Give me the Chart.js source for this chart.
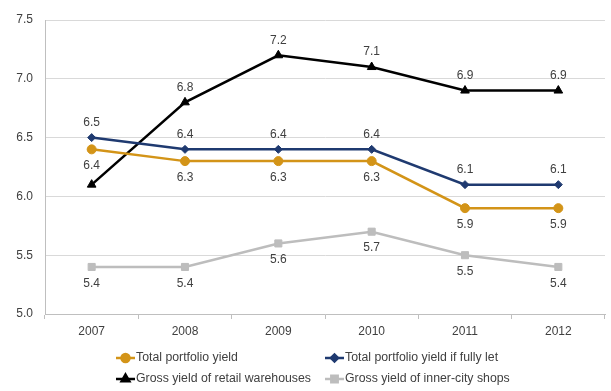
<!DOCTYPE html>
<html>
<head>
<meta charset="utf-8">
<script src="https://cdn.jsdelivr.net/npm/chart.js@4.4.0/dist/chart.umd.min.js"></script>
<style>
  html, body { margin: 0; padding: 0; background: #fff; }
  #wrap { width: 611px; height: 391px; position: relative; }
</style>
</head>
<body>
<div id="wrap"><canvas id="myChart"></canvas></div>
<script>
var ctx = document.getElementById("myChart").getContext('2d');

const years = ["2007", "2008", "2009", "2010", "2011", "2012"];
const portfolioYield = [6.4, 6.3, 6.3, 6.3, 5.9, 5.9];
const fullyLetYield = [6.5, 6.4, 6.4, 6.4, 6.1, 6.1];
const warehouseYield = [6.1, 6.8, 7.2, 7.1, 6.9, 6.9];
const innerCityYield = [5.4, 5.4, 5.6, 5.7, 5.5, 5.4];
// 2007 value of the warehouses line carries no label
const warehouseLabels = [false, true, true, true, true, true];

const FONT = "'Liberation Sans', Arial, sans-serif";

function series(label, values, color, style, radius, labelPos, show) {
  return {
    label: label,
    data: values,
    borderColor: color,
    backgroundColor: color,
    borderWidth: 2.5,
    pointStyle: style,
    pointRadius: radius,
    pointHoverRadius: radius,
    pointBorderWidth: 1,
    tension: 0,
    labelPos: labelPos, // 'above' or 'below'
    showLabels: show || values.map(() => true)
  };
}

const data = {
  labels: years,
  datasets: [
    series('Total portfolio yield', portfolioYield, '#d39418', 'circle', 4.5, 'below'),
    series('Total portfolio yield if fully let', fullyLetYield, '#1f3a70', 'rectRot', 4, 'above'),
    series('Gross yield of retail warehouses', warehouseYield, '#000000', 'triangle', 5, 'above', warehouseLabels),
    series('Gross yield of inner-city shops', innerCityYield, '#bdbdbd', 'rect', 5, 'below')
  ]
};

// value labels next to each point
const valueLabels = {
  id: 'valueLabels',
  afterDatasetsDraw(chart) {
    const c = chart.ctx;
    c.save();
    c.font = '12px ' + FONT;
    c.fillStyle = '#404040';
    c.textAlign = 'center';
    c.textBaseline = 'middle';
    chart.data.datasets.forEach((ds, i) => {
      chart.getDatasetMeta(i).data.forEach((pt, j) => {
        if (!ds.showLabels[j]) return;
        const dy = ds.labelPos === 'above' ? -15 : 16.5;
        c.fillText(ds.data[j].toFixed(1), pt.x, pt.y + dy);
      });
    });
    c.restore();
  }
};

// two-column legend with line + marker swatches
const lineLegend = {
  id: 'lineLegend',
  afterDraw(chart) {
    const c = chart.ctx;
    const cols = [116, 325];
    const rows = [358, 379];
    c.save();
    c.font = '12.3px ' + FONT;
    c.textBaseline = 'middle';
    c.textAlign = 'left';
    chart.data.datasets.forEach((ds, i) => {
      const x = cols[i % 2], y = rows[Math.floor(i / 2)];
      c.strokeStyle = ds.borderColor;
      c.lineWidth = 2.5;
      c.beginPath();
      c.moveTo(x, y);
      c.lineTo(x + 19, y);
      c.stroke();
      c.fillStyle = ds.backgroundColor;
      Chart.helpers.drawPoint(c, {
        pointStyle: ds.pointStyle,
        radius: ds.pointRadius - 0.5,
        borderWidth: 1,
        rotation: 0
      }, x + 9.5, y);
      c.fillStyle = '#404040';
      c.fillText(ds.label, x + 20, y);
    });
    c.restore();
  }
};

const config = {
  type: 'line',
  data,
  plugins: [valueLabels, lineLegend],
  options: {
    responsive: true,
    maintainAspectRatio: false,
    animation: false,
    layout: { padding: { top: 20, right: 1, bottom: 47, left: 0 } },
    plugins: {
      legend: { display: false },
      tooltip: { enabled: false }
    },
    scales: {
      x: {
        offset: true,
        grid: {
          offset: true,
          drawOnChartArea: false,
          drawTicks: true,
          tickLength: 5,
          color: '#bfbfbf'
        },
        border: { color: '#bfbfbf', width: 1 },
        ticks: { font: { family: FONT, size: 12 }, color: '#404040', padding: 5, maxRotation: 0 },
        afterFit(scale) { scale.height = 30; }
      },
      y: {
        min: 5.0,
        max: 7.5,
        ticks: {
          stepSize: 0.5,
          font: { family: FONT, size: 12 },
          color: '#404040',
          padding: 12,
          callback: v => v.toFixed(1)
        },
        grid: { color: '#d9d9d9', drawTicks: false },
        border: { color: '#bfbfbf', width: 1 },
        afterFit(scale) { scale.width = 45; }
      }
    }
  }
};

var myChart = new Chart(ctx, config);
</script>
</body>
</html>
